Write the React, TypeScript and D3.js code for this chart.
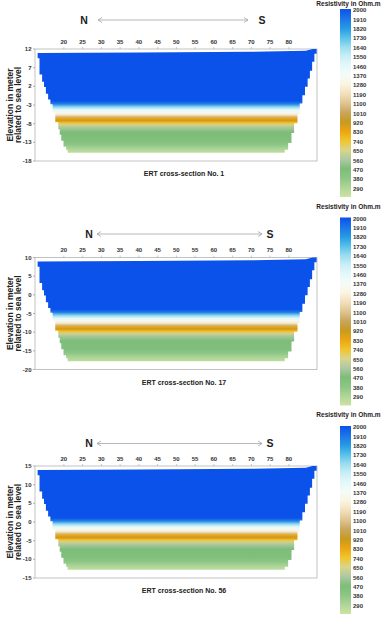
import React from "react";
import * as d3 from "d3";

// ERT sections: number, top of the elevation axis, elevation ticks
const sectionNos = [1, 17, 56];
const elevMax = [12, 10, 15];
const elevMin = [-18, -20, -15];
const elevTicks = [
  [12, 7, 2, -3, -8, -13, -18],
  [10, 5, 0, -5, -10, -15, -20],
  [15, 10, 5, 0, -5, -10, -15],
];
const distTicks = [20, 25, 30, 35, 40, 45, 50, 55, 60, 65, 70, 75, 80];

// legend (colour bar)
const legendValues = [2000, 1910, 1820, 1730, 1640, 1550, 1460, 1370, 1280, 1190, 1100, 1010, 920, 830, 740, 650, 560, 470, 380, 290];
const colorValues = [2000, 1910, 1820, 1730, 1640, 1550, 1460, 1370, 1280, 1190, 1100, 1010, 920, 830, 740, 650, 560, 470, 380, 290, 200];
const colorList = [
  "#0a52ea", "#1d74e8", "#2499e4", "#55bfe9", "#99dcef", "#c9eef6", "#e4f8fa",
  "#f4fcf9", "#fbf4e2", "#f2e0bb", "#dfc592", "#c9a65c", "#c79a22", "#eda412",
  "#f1c52c", "#d9d58a", "#afc8a2", "#7dbd79", "#8dc685", "#aed699", "#cfe2a2",
];

// vertical resistivity profile, depth in m below the top of the axis
const profileDepth = [0, 13.9, 14.7, 15.6, 16.3, 17.0, 17.6, 18.2, 18.6, 19.1, 19.5, 19.9, 20.4, 21.2, 22.3, 24.5, 25.6, 26.7, 27.8];
const profileRho = [2000, 2000, 1880, 1640, 1460, 1330, 1230, 1050, 830, 915, 820, 720, 620, 540, 470, 450, 380, 300, 240];
const bottomDepth = 27.8;

// outline of the section (distance, depth below axis top)
const surfaceX = [13.0, 40, 70, 84.5, 86.3, 87.4];
const surfaceD = [1.1, 0.95, 0.75, 0.5, 0.0, 0.0];
const leftX = [13.0, 13.5, 14.2, 14.7, 15.2, 15.8, 16.4, 17.0, 17.7, 18.5, 18.9, 19.3, 19.9, 20.6, 21.0];
const leftD = [1.1, 2.5, 6.8, 8.8, 10.2, 12.0, 13.5, 14.8, 17.0, 19.6, 21.5, 23.0, 24.6, 26.2, 27.0];
const rightX = [87.4, 86.8, 86.2, 85.6, 85.0, 84.3, 83.6, 82.9, 82.3, 81.4, 80.7, 79.8, 78.9];
const rightD = [0, 1.3, 3.4, 5.8, 7.9, 10.1, 12.4, 14.6, 17.5, 19.9, 22.5, 25.2, 27.0];

const W = 383;
const H = 620;
const panelTop = [49, 257.5, 466];
const plotH = 112;
const nX = [84, 89, 89];
const sX = [262, 270, 270];
const nsDy = [-29, -23.5, -22.5];
const arrowX = [[98, 248], [97, 262], [97, 262]];
const titleY = [3.5, 206.5, 415];

const font = "'Liberation Sans', Arial, sans-serif";

const color = d3.scaleLinear<string>().domain(colorValues).range(colorList).interpolate(d3.interpolateRgb);
const x = d3.scaleLinear().domain([12.3, 87.5]).range([35, 317]);

function outline(): [number, number][] {
  const pts: [number, number][] = [];
  surfaceX.forEach((v, i) => pts.push([v, surfaceD[i]]));
  rightX.forEach((v, i) => {
    pts.push([v, rightD[i]]);
    pts.push([v, i < rightX.length - 1 ? rightD[i + 1] : bottomDepth]);
  });
  for (let i = leftX.length - 1; i >= 0; i--) {
    pts.push([leftX[i], i < leftX.length - 1 ? leftD[i + 1] : bottomDepth]);
    pts.push([leftX[i], leftD[i]]);
  }
  return pts;
}

const Panel = ({ k }: { k: number }) => {
  const top = panelTop[k];
  const y = d3.scaleLinear().domain([elevMin[k], elevMax[k]]).range([top + plotH, top]);
  const yd = (d: number) => y(elevMax[k] - d);
  const line = d3.line<[number, number]>().x((p) => x(p[0])).y((p) => yd(p[1]));
  const path = line(outline()) + "Z";
  const barTop = top - 40;
  const barH = 188;
  const bar = d3.scaleLinear().domain([2000, 200]).range([barTop, barTop + barH]);
  const mid = top + plotH / 2;
  const ny = top + nsDy[k];
  const [a0, a1] = arrowX[k];
  return (
    <g>
      <defs>
        <linearGradient id={`prof${k}`} gradientUnits="userSpaceOnUse" x1="0" x2="0" y1={yd(0)} y2={yd(bottomDepth)}>
          {profileDepth.map((d, i) => (
            <stop key={i} offset={d / bottomDepth} stopColor={color(profileRho[i])} />
          ))}
        </linearGradient>
        <linearGradient id={`bar${k}`} gradientUnits="userSpaceOnUse" x1="0" x2="0" y1={barTop} y2={barTop + barH}>
          {colorValues.map((v, i) => (
            <stop key={i} offset={(2000 - v) / 1800} stopColor={colorList[i]} />
          ))}
        </linearGradient>
      </defs>

      {/* frame */}
      <rect x={35} y={top} width={282} height={plotH} fill="none" stroke="#b4b4b4" strokeWidth={0.8} />
      <path d={path} fill={`url(#prof${k})`} />

      {/* elevation axis */}
      {elevTicks[k].map((t) => (
        <g key={t}>
          <line x1={33} x2={35} y1={y(t)} y2={y(t)} stroke="#888" strokeWidth={0.6} />
          <text x={31.5} y={y(t)} dy="0.35em" textAnchor="end" fontSize={6} fontWeight="bold" fill="#333" fontFamily={font}>
            {t}
          </text>
        </g>
      ))}
      <g transform={`translate(0,${mid})`} fontFamily={font} fontWeight="bold" fontSize={8.5} fill="#222" textAnchor="middle">
        <text transform="translate(12.5,0) rotate(-90)">Elevation in meter</text>
        <text transform="translate(21,0) rotate(-90)">related to sea level</text>
      </g>

      {/* distance labels */}
      {distTicks.map((t) => (
        <g key={t}>
          <line x1={x(t)} x2={x(t)} y1={top - 2} y2={top} stroke="#999" strokeWidth={0.5} />
          <text x={x(t)} y={top - 7.5} dy="0.35em" textAnchor="middle" fontSize={6} fontWeight="bold" fill="#333" fontFamily={font}>
            {t}
          </text>
        </g>
      ))}

      {/* N <-> S */}
      <g fontFamily={font} fontWeight="bold" fontSize={10.5} fill="#222" textAnchor="middle">
        <text x={nX[k]} y={ny} dy="0.35em">N</text>
        <text x={sX[k]} y={ny} dy="0.35em">S</text>
      </g>
      <g stroke="#999" strokeWidth={0.7} fill="none">
        <line x1={a0} x2={a1} y1={ny} y2={ny} />
        <polyline points={`${a0 + 4},${ny - 2.5} ${a0},${ny} ${a0 + 4},${ny + 2.5}`} />
        <polyline points={`${a1 - 4},${ny - 2.5} ${a1},${ny} ${a1 - 4},${ny + 2.5}`} />
      </g>

      <text x={184} y={top + plotH + 13} dy="0.35em" textAnchor="middle" fontSize={7} fontWeight="bold" fill="#222" fontFamily={font}>
        {`ERT cross-section No. ${sectionNos[k]}`}
      </text>

      {/* colour bar */}
      <text x={348.5} y={titleY[k]} dy="0.35em" textAnchor="middle" fontSize={6.5} fontWeight="bold" fill="#222" fontFamily={font}>
        Resistivity in Ohm.m
      </text>
      <rect x={340} y={barTop} width={11} height={barH} fill={`url(#bar${k})`} />
      {legendValues.map((v) => (
        <text key={v} x={353} y={bar(v) + 1} dy="0.35em" fontSize={6} fontWeight="bold" fill="#333" fontFamily={font}>
          {v}
        </text>
      ))}
    </g>
  );
};

export default function App() {
  return (
    <svg width={W} height={H} style={{ position: "absolute", left: 0, top: 0, background: "#fff" }}>
      {sectionNos.map((_, k) => (
        <Panel key={k} k={k} />
      ))}
    </svg>
  );
}
